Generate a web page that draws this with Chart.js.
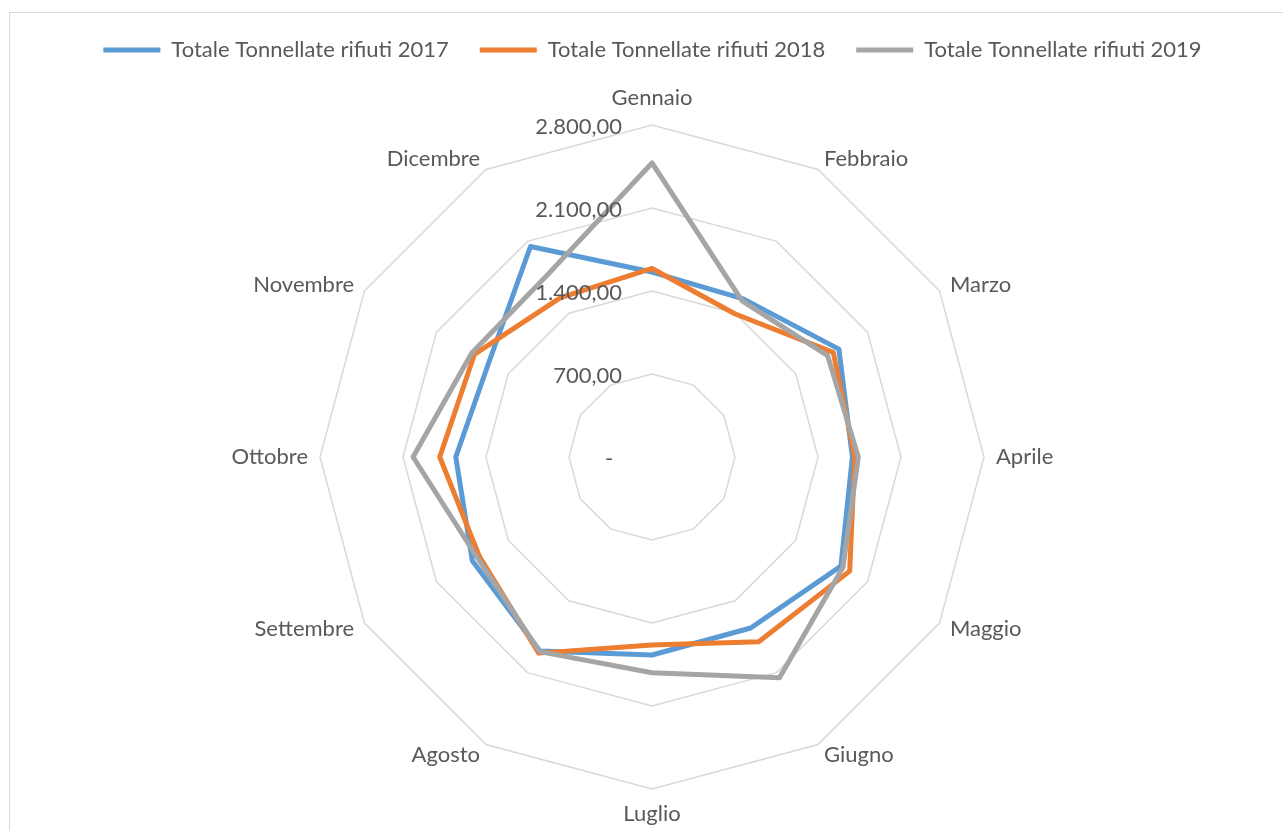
<!DOCTYPE html>
<html>
<head>
<meta charset="utf-8">
<script src="https://cdn.jsdelivr.net/npm/chart.js@4"></script>
<style>
  html, body { margin: 0; padding: 0; background: #fff; overflow: hidden; }
  #frame { position: absolute; left: 9px; top: 12px; width: 1300px; height: 850px; border: 1px solid #D9D9D9; box-sizing: border-box; }
  #wrap { position: absolute; left: 0; top: 0; width: 1283px; height: 831px; }
</style>
</head>
<body>
<div id="frame"></div>
<div id="wrap"><canvas id="c"></canvas></div>
<script>
const months = ['Gennaio','Febbraio','Marzo','Aprile','Maggio','Giugno','Luglio','Agosto','Settembre','Ottobre','Novembre','Dicembre'];
const seriesNames = ['Totale Tonnellate rifiuti 2017','Totale Tonnellate rifiuti 2018','Totale Tonnellate rifiuti 2019'];
const t2017 = [1560, 1540, 1820, 1690, 1840, 1665, 1670, 1890, 1750, 1655, 1590, 2050];
const t2018 = [1590, 1395, 1765, 1710, 1925, 1800, 1585, 1910, 1680, 1790, 1730, 1550];
const t2019 = [2480, 1520, 1710, 1740, 1860, 2150, 1820, 1895, 1700, 2015, 1755, 1770];
const tickValues = [0, 700, 1400, 2100, 2800];
const tickLabels = ['-', '700,00', '1.400,00', '2.100,00', '2.800,00'];

const FONT = 'Lato';
const FS = 22;
const TEXT = '#595959';

// tick labels (right-aligned left of the centre axis), positioned through the radial scale
const tickLabelPlugin = {
  id: 'tickLabelPlugin',
  afterDatasetsDraw(chart) {
    const s = chart.scales.r;
    const ctx = chart.ctx;
    ctx.save();
    ctx.fillStyle = TEXT;
    ctx.font = FS + 'px ' + FONT;
    ctx.textBaseline = 'middle';
    tickValues.forEach((v, i) => {
      const d = s.getDistanceFromCenterForValue(v);
      const y = s.yCenter - d + 2;
      if (v === 0) { ctx.textAlign = 'center'; ctx.fillText(tickLabels[i], s.xCenter - 43, y); }
      else { ctx.textAlign = 'right'; ctx.fillText(tickLabels[i], s.xCenter - 30, y); }
    });
    ctx.restore();
  }
};

// category labels placed at the scale's point positions
const pointLabelPlugin = {
  id: 'pointLabelPlugin',
  afterDraw(chart) {
    const s = chart.scales.r;
    const ctx = chart.ctx;
    ctx.save();
    ctx.fillStyle = TEXT;
    ctx.font = FS + 'px ' + FONT;
    ctx.textBaseline = 'middle';
    months.forEach((m, i) => {
      const p = s.getPointPosition(i, s.drawingArea + 12);
      const deg = Math.round(i * 360 / months.length);
      let align = 'center', dy = 0;
      if (deg === 0) dy = -15;
      else if (deg === 180) dy = 13;
      else align = deg < 180 ? 'left' : 'right';
      ctx.textAlign = align;
      ctx.fillText(m, p.x, p.y + dy);
    });
    ctx.restore();
  }
};

new Chart(document.getElementById('c'), {
  type: 'radar',
  data: {
    labels: months,
    datasets: [
      { label: seriesNames[0], data: t2017, borderColor: '#5B9BD5', backgroundColor: '#5B9BD5', borderWidth: 5, order: 3 },
      { label: seriesNames[1], data: t2018, borderColor: '#ED7D31', backgroundColor: '#ED7D31', borderWidth: 5, order: 2 },
      { label: seriesNames[2], data: t2019, borderColor: '#A5A5A5', backgroundColor: '#A5A5A5', borderWidth: 5, order: 1 }
    ]
  },
  options: {
    responsive: true,
    maintainAspectRatio: false,
    animation: false,
    devicePixelRatio: 1,
    layout: { padding: { top: 8, bottom: 42, left: 22, right: 0 } },
    elements: {
      line: { borderWidth: 5, fill: false, tension: 0, borderJoinStyle: 'round' },
      point: { radius: 0, hoverRadius: 0 }
    },
    scales: {
      r: {
        min: 0, max: 2800,
        ticks: { display: false, stepSize: 700 },
        grid: { color: '#D9D9D9', lineWidth: 1.5, circular: false },
        angleLines: { display: false },
        pointLabels: { display: false }
      }
    },
    plugins: {
      legend: {
        position: 'top',
        labels: {
          color: TEXT, font: { family: FONT, size: FS }, padding: 31,
          usePointStyle: true, pointStyle: 'line', pointStyleWidth: 57,
          sort: (a, b) => a.datasetIndex - b.datasetIndex
        }
      },
      subtitle: { display: true, text: '', weight: 500, font: { size: 10, lineHeight: 1 }, padding: { top: 0, bottom: 44 } },
      tooltip: { enabled: false }
    }
  },
  plugins: [tickLabelPlugin, pointLabelPlugin]
});
</script>
</body>
</html>
